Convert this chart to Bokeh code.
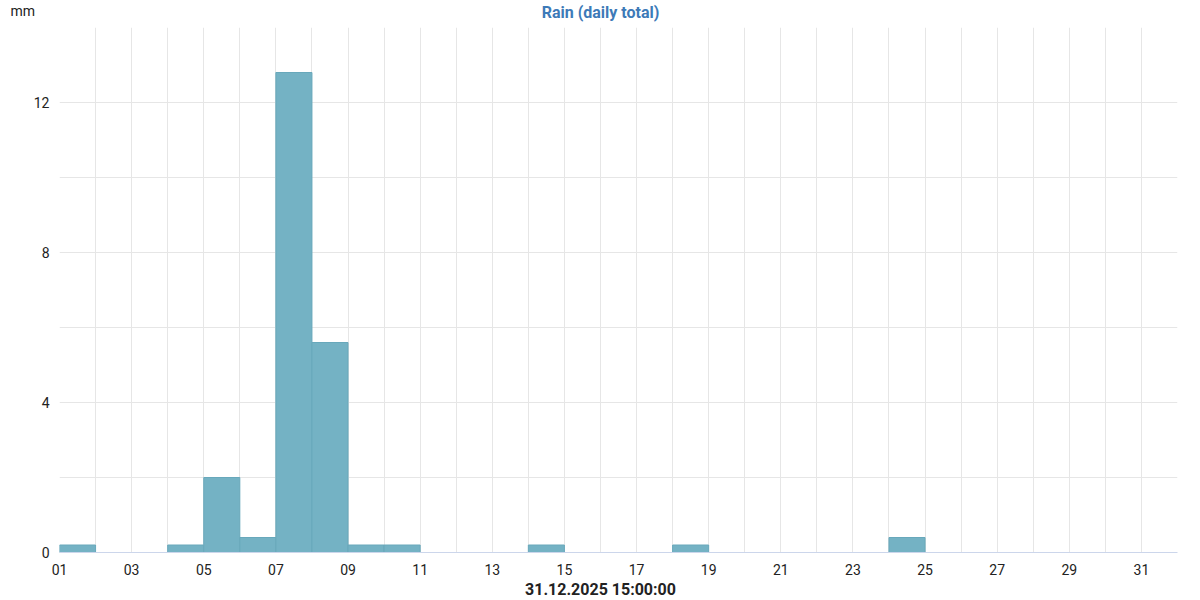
from bokeh.plotting import figure
from bokeh.models import Range1d, FixedTicker, Label
from bokeh.embed import file_html
from bokeh.resources import INLINE

days = list(range(1, 32))
rain_mm = [0.2, 0, 0, 0.2, 2.0, 0.4, 12.8, 5.6, 0.2, 0.2,
           0, 0, 0, 0.2, 0, 0, 0, 0.2, 0, 0,
           0, 0, 0, 0.4, 0, 0, 0, 0, 0, 0, 0]
x_tick_days = [d for d in days if d % 2 == 1]
y_ticks = [0, 4, 8, 12]
y_grid = [0, 2, 4, 6, 8, 10, 12, 14]
title_text = "Rain (daily total)"
unit_text = "mm"
date_text = "31.12.2025 15:00:00"

FONT = "Roboto"

p = figure(width=1200, height=600, output_backend="svg", toolbar_location=None,
           x_range=Range1d(1, 32), y_range=Range1d(0, 14),
           min_border_left=59, min_border_right=23, min_border_top=27, min_border_bottom=48)
p.outline_line_color = None
p.background_fill_color = "white"
p.border_fill_color = "white"

nz = [i for i, v in enumerate(rain_mm) if v > 0]
p.quad(left=[days[i] for i in nz], right=[days[i] + 1 for i in nz], bottom=0,
       top=[rain_mm[i] for i in nz], fill_color="#74b2c4", line_color="#68a8bb", line_width=1)

# x axis
p.xaxis.ticker = FixedTicker(ticks=x_tick_days)
p.xaxis.major_label_overrides = {d: f"{d:02d}" for d in x_tick_days}
p.xaxis.axis_line_color = "#ccd6eb"
p.xaxis.major_tick_line_color = None
p.xaxis.minor_tick_line_color = None
p.xaxis.major_label_text_font = FONT
p.xaxis.major_label_text_font_size = "14px"
p.xaxis.major_label_text_color = "#222222"
p.xaxis.major_label_standoff = 5

p.xgrid.ticker = FixedTicker(ticks=list(range(1, 33)))
p.xgrid.grid_line_color = "#e6e6e6"

# y axis
p.yaxis.ticker = FixedTicker(ticks=y_ticks)
p.yaxis.axis_line_color = None
p.yaxis.major_tick_line_color = None
p.yaxis.minor_tick_line_color = None
p.yaxis.major_label_text_font = FONT
p.yaxis.major_label_text_font_size = "14px"
p.yaxis.major_label_text_color = "#222222"
p.yaxis.major_label_standoff = 4
p.ygrid.ticker = FixedTicker(ticks=y_grid)
p.ygrid.grid_line_color = "#e6e6e6"

p.add_layout(Label(x=541, y=15, x_units="screen", y_units="screen", text=title_text,
                   text_align="center", text_baseline="middle",
                   text_font=FONT, text_font_size="16px", text_font_style="bold",
                   text_color="#3d7ab8"), "above")
p.add_layout(Label(x=541, y=7, x_units="screen", y_units="screen", text=date_text,
                   text_align="center", text_baseline="middle",
                   text_font=FONT, text_font_size="16px", text_font_style="bold",
                   text_color="#222222"), "below")
p.add_layout(Label(x=5, y=542, x_units="screen", y_units="screen", text=unit_text,
                   text_align="left", text_baseline="middle",
                   text_font=FONT, text_font_size="14px", text_color="#222222"), "left")

open("out.html", "w").write(file_html(p, INLINE))
